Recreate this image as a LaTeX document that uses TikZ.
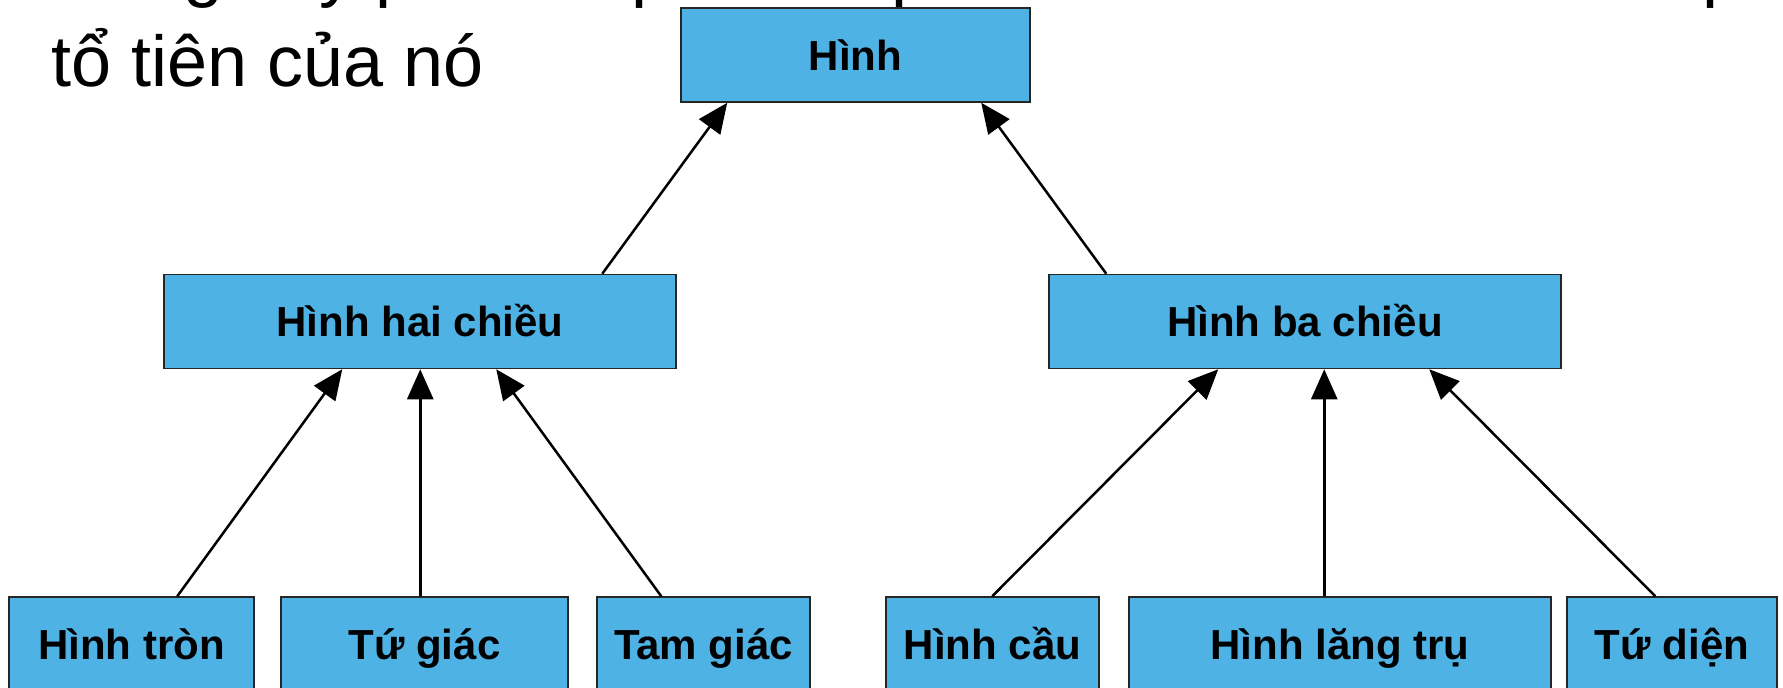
\documentclass[tikz,border=0pt]{standalone}
\usepackage{fontspec}
\setmainfont{Liberation Sans}
\usetikzlibrary{arrows.meta}
\definecolor{boxblue}{RGB}{78,178,228}
\begin{document}
\begin{tikzpicture}[x=1pt,y=-1pt,
  box/.style={draw=black!85, line width=1.5pt, fill=boxblue, inner sep=0pt,
    minimum height=94pt, font=\fontsize{42}{50}\selectfont\bfseries,
    text height=30pt, text depth=0pt},
  title/.style={anchor=base west, inner sep=0pt, font=\fontsize{72}{86}\selectfont},
  arr/.style={line width=2.5pt, -{Triangle[length=30pt,width=26pt]}}]
\useasboundingbox (0,0) rectangle (1783,688);
\clip (0,0) rectangle (1783,688);
% heading (first line is cut off by the top edge)
\node[title] (l1) at (38,-6) {Trong cây phân cấp mỗi lớp đều kế thừa từ tất cả lớp};
\node[title] (l2) at (51,86) {tổ tiên của nó};
% boxes
\node[box, minimum width=349pt] (hinh) at (855.5,55) {Hình};
\node[box, minimum width=512pt] (hhc) at (420,321.5) {Hình hai chiều};
\node[box, minimum width=512pt] (hbc) at (1305,321.5) {Hình ba chiều};
\node[box, minimum width=245pt] (htron) at (131.5,644) {Hình tròn};
\node[box, minimum width=287pt] (tugiac) at (424.5,644) {Tứ giác};
\node[box, minimum width=213pt] (tamgiac) at (703.5,644) {Tam giác};
\node[box, minimum width=213pt] (hcau) at (992.5,644) {Hình cầu};
\node[box, minimum width=422pt] (hlt) at (1340,644) {Hình lăng trụ};
\node[box, minimum width=210pt] (tudien) at (1672,644) {Tứ diện};
% arrows
\draw[arr] ([xshift=439pt]hhc.north west) -- ([xshift=47pt]hinh.south west);
\draw[arr] ([xshift=58pt]hbc.north west) -- ([xshift=301pt]hinh.south west);
\draw[arr] ([xshift=169pt]htron.north west) -- ([xshift=179pt]hhc.south west);
\draw[arr] ([xshift=140pt]tugiac.north west) -- ([xshift=257pt]hhc.south west);
\draw[arr] ([xshift=65pt]tamgiac.north west) -- ([xshift=333pt]hhc.south west);
\draw[arr] ([xshift=107pt]hcau.north west) -- ([xshift=170pt]hbc.south west);
\draw[arr] ([xshift=196pt]hlt.north west) -- ([xshift=276pt]hbc.south west);
\draw[arr] ([xshift=89pt]tudien.north west) -- ([xshift=381pt]hbc.south west);
\end{tikzpicture}
\end{document}
